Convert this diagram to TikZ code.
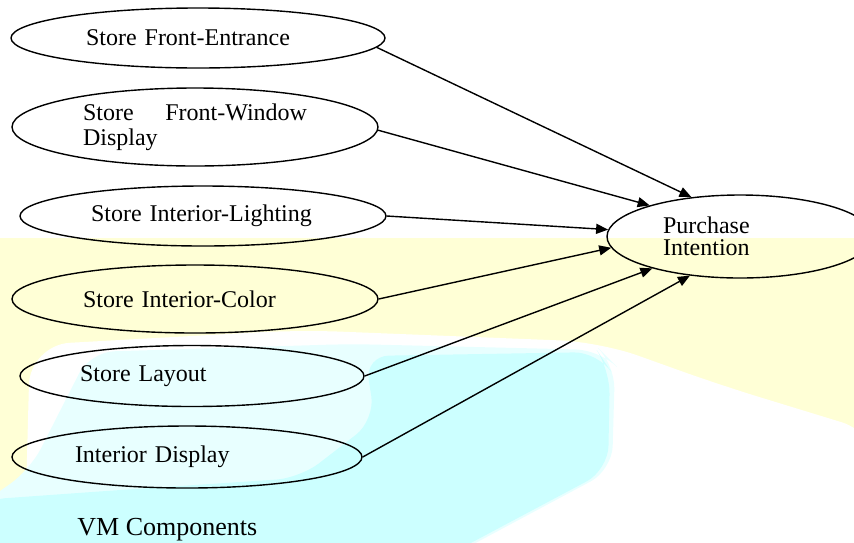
\documentclass[tikz,border=0pt]{standalone}
\usepackage{fontspec}
\setmainfont{Liberation Serif}
\usetikzlibrary{arrows.meta,shapes.geometric}
\definecolor{vmyellow}{HTML}{FFFFD6}
\definecolor{vmcyan}{HTML}{CCFFFF}
\definecolor{vmpale}{HTML}{E8FFFF}

\begin{document}
\begin{tikzpicture}[x=0.5pt,y=-0.5pt,>={Triangle[length=6pt,width=5pt]},
  factor/.style={ellipse,draw,line width=0.7pt,inner sep=0pt,text width=112pt,align=left,font=\fontsize{12}{12.5}\selectfont},
  link/.style={->,line width=0.7pt}]
  \useasboundingbox (0,0) rectangle (854,542);
  \clip (0,0) rectangle (854,542);
  % watermark behind the diagram
  \fill[vmyellow] (0,238) rectangle (854,542);
  \fill[white,rounded corners=20pt] (24,570) -- (30,345) -- (300,330) -- (600,342) -- (720,385) -- (880,434) -- (880,570) -- cycle;
  \fill[vmpale,rounded corners=12pt] (-20,570) -- (-20,505) -- (30,470) -- (90,352) -- (350,344) -- (600,350) -- (615,365) -- (612,470) -- (425,570) -- cycle;
  \fill[vmcyan,rounded corners=12pt] (-20,570) -- (-20,500) -- (120,490) -- (300,478) -- (375,420) -- (365,356) -- (598,352) -- (610,370) -- (608,470) -- (420,570) -- cycle;
  % VM components
  \node[factor,minimum width=187pt,minimum height=30pt] (entrance) at (198,38) {Store Front-Entrance};
  \node[factor,minimum width=183pt,minimum height=39pt] (window) at (195,127) {Store\hfill Front-Window\\Display};
  \node[factor,minimum width=183pt,minimum height=30pt] (lighting) at (203,216) {Store Interior-Lighting};
  \node[factor,minimum width=183pt,minimum height=34pt] (color) at (195,299) {Store Interior-Color};
  \node[factor,minimum width=172pt,minimum height=30.5pt] (layout) at (192,376) {Store Layout};
  \node[factor,minimum width=175pt,minimum height=31pt] (display) at (187,457) {Interior Display};
  \node[factor,minimum width=133pt,minimum height=41.5pt,text width=77pt,font=\fontsize{12}{11}\selectfont] (intent) at (740,236.5) {Purchase\\Intention};
  \node[anchor=west,inner sep=0pt,font=\fontsize{13}{15}\selectfont] (vmlabel) at (77,530) {VM Components};
  % links to purchase intention
  \draw[link] (entrance.-3) -- (intent.141.6);
  \draw[link] (window.-1) -- (intent.161.6);
  \draw[link] (lighting.east) -- (intent.177.4);
  \draw[link] (color.east) -- (intent.185);
  \draw[link] (layout.east) -- (intent.200.4);
  \draw[link] (display.east) -- (intent.218.4);
\end{tikzpicture}
\end{document}
